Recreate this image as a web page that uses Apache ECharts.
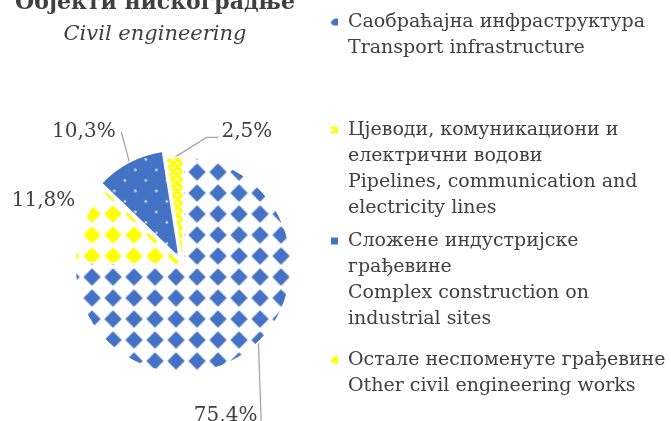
<!DOCTYPE html>
<html>
<head>
<meta charset="utf-8">
<script src="https://cdn.jsdelivr.net/npm/echarts@6/dist/echarts.min.js"></script>
<style>
html, body { margin: 0; padding: 0; background: #fff; }
#main { width: 671px; height: 421px; }
</style>
</head>
<body>
<div id="main"></div>
<script>
// категорије, редослијед као у легенди
var categories = [
    'Саобраћајна инфраструктура\nTransport infrastructure',
    'Цјеводи, комуникациони и\nелектрични водови\nPipelines, communication and\nelectricity lines',
    'Сложене индустријске\nграђевине\nComplex construction on\nindustrial sites',
    'Остале неспоменуте грађевине\nOther civil engineering works'
];
// удио, %
var shares = [75.4, 2.5, 10.3, 11.8];
// редослијед кришки у смјеру казаљке, од врха
var pieOrder = [0, 3, 2, 1];

var BLUE = '#4472C4', YELLOW = '#FFFF00', TEXT = '#404040', FONT = 'DejaVu Serif';

// шрафуре (pattern fill)
function tile(w, h, draw) {
    var c = document.createElement('canvas');
    c.width = w; c.height = h;
    draw(c.getContext('2d'), w, h);
    return c;
}
function diamonds(col) {
    return tile(21, 21, function (g) {
        g.fillStyle = '#fff'; g.fillRect(0, 0, 21, 21);
        g.fillStyle = col;
        g.beginPath();
        g.moveTo(10.5, 1.8); g.lineTo(19.2, 10.5); g.lineTo(10.5, 19.2); g.lineTo(1.8, 10.5);
        g.closePath(); g.fill();
    });
}
function dots() {
    return tile(21, 21, function (g) {
        g.fillStyle = BLUE; g.fillRect(0, 0, 21, 21);
        g.fillStyle = 'rgba(255,255,255,0.85)';
        [[5, 5], [15.5, 15.5]].forEach(function (p) {
            g.beginPath(); g.arc(p[0], p[1], 1.3, 0, Math.PI * 2); g.fill();
        });
    });
}
function ovals() {
    return tile(8, 8, function (g) {
        g.fillStyle = YELLOW; g.fillRect(0, 0, 8, 8);
        g.fillStyle = '#fff';
        [[4, 2], [0, 6], [8, 6]].forEach(function (p) {
            g.beginPath(); g.ellipse(p[0], p[1], 2.4, 1.1, 0, 0, Math.PI * 2); g.fill();
        });
    });
}
var patterns = [diamonds(BLUE), ovals(), dots(), diamonds(YELLOW)];

// водичи натписа, помаци од тачке на ивици кришке
// (натпис извучене кришке поставља сам ECharts, преко length)
var leaders = [
    { line: [[3, 85]], label: [-1, 73], align: 'right' },
    { line: [[32, -20], [44, -20]], label: [47, -26], align: 'left' },
    { line: [[-8, -30]], label: null },
    { line: [], label: [-8, -23], align: 'right' }
];

var legendLineY = [22, 130, 241, 360];
var LH = 26;

var chart = echarts.init(document.getElementById('main'));

var legends = categories.map(function (name, i) {
    var n = name.split('\n').length;
    return {
        orient: 'vertical',
        left: 331,
        top: legendLineY[i] - (2 * n - 1) * LH / 2,
        padding: 0,
        itemWidth: 7,
        itemHeight: 7,
        icon: 'rect',
        selectedMode: false,
        itemStyle: { borderWidth: 0 },
        data: [name],
        // празни редови изнад, да први ред стоји уз ознаку
        formatter: function (nm) { return new Array(n).join('\n') + nm; },
        textStyle: {
            fontFamily: FONT, fontSize: 19, color: TEXT,
            lineHeight: LH, padding: [0, 0, 0, 5]
        }
    };
});

chart.setOption({
    animation: false,
    title: {
        text: 'Објекти нискоградње',
        subtext: 'Civil engineering',
        left: 155,
        top: -7,
        padding: 0,
        textAlign: 'center',
        itemGap: 10,
        textStyle: { fontFamily: FONT, fontWeight: 'bold', fontSize: 22, color: TEXT, lineHeight: 20 },
        subtextStyle: { fontFamily: FONT, fontStyle: 'italic', fontSize: 21, color: TEXT, lineHeight: 20 }
    },
    legend: legends,
    series: [{
        type: 'pie',
        center: [183, 265],
        radius: 108,
        startAngle: 90,
        clockwise: true,
        selectedMode: 'single',
        selectedOffset: 8,
        avoidLabelOverlap: false,
        emphasis: { disabled: true },
        itemStyle: { borderColor: '#fff', borderWidth: 1.5 },
        label: {
            fontFamily: FONT, fontSize: 20, color: TEXT, overflow: 'none',
            formatter: function (p) { return p.value.toFixed(1).replace('.', ',') + '%'; }
        },
        labelLine: { lineStyle: { color: '#A6A6A6', width: 1.3 } },
        labelLayout: function (p) {
            var k = pieOrder[p.dataIndex];
            var L = leaders[k];
            var a = p.labelLinePoints ? p.labelLinePoints[0] : [0, 0];
            var pts = [a.slice()];
            L.line.forEach(function (d) { pts.push([a[0] + d[0], a[1] + d[1]]); });
            while (pts.length < 3) pts.push(pts[pts.length - 1].slice());
            if (!L.label) return { labelLinePoints: pts };
            return {
                x: a[0] + L.label[0],
                y: a[1] + L.label[1],
                align: L.align,
                verticalAlign: 'middle',
                labelLinePoints: pts
            };
        },
        data: pieOrder.map(function (i) {
            return {
                name: categories[i],
                value: shares[i],
                selected: i === 2,
                label: i === 2 ? { distanceToLabelLine: -2 } : undefined,
                labelLine: i === 2 ? { length: 34, length2: 0 } : undefined,
                itemStyle: { color: { image: patterns[i], repeat: 'repeat', x: -2.5, y: -6.5 } }
            };
        })
    }]
});
</script>
</body>
</html>
